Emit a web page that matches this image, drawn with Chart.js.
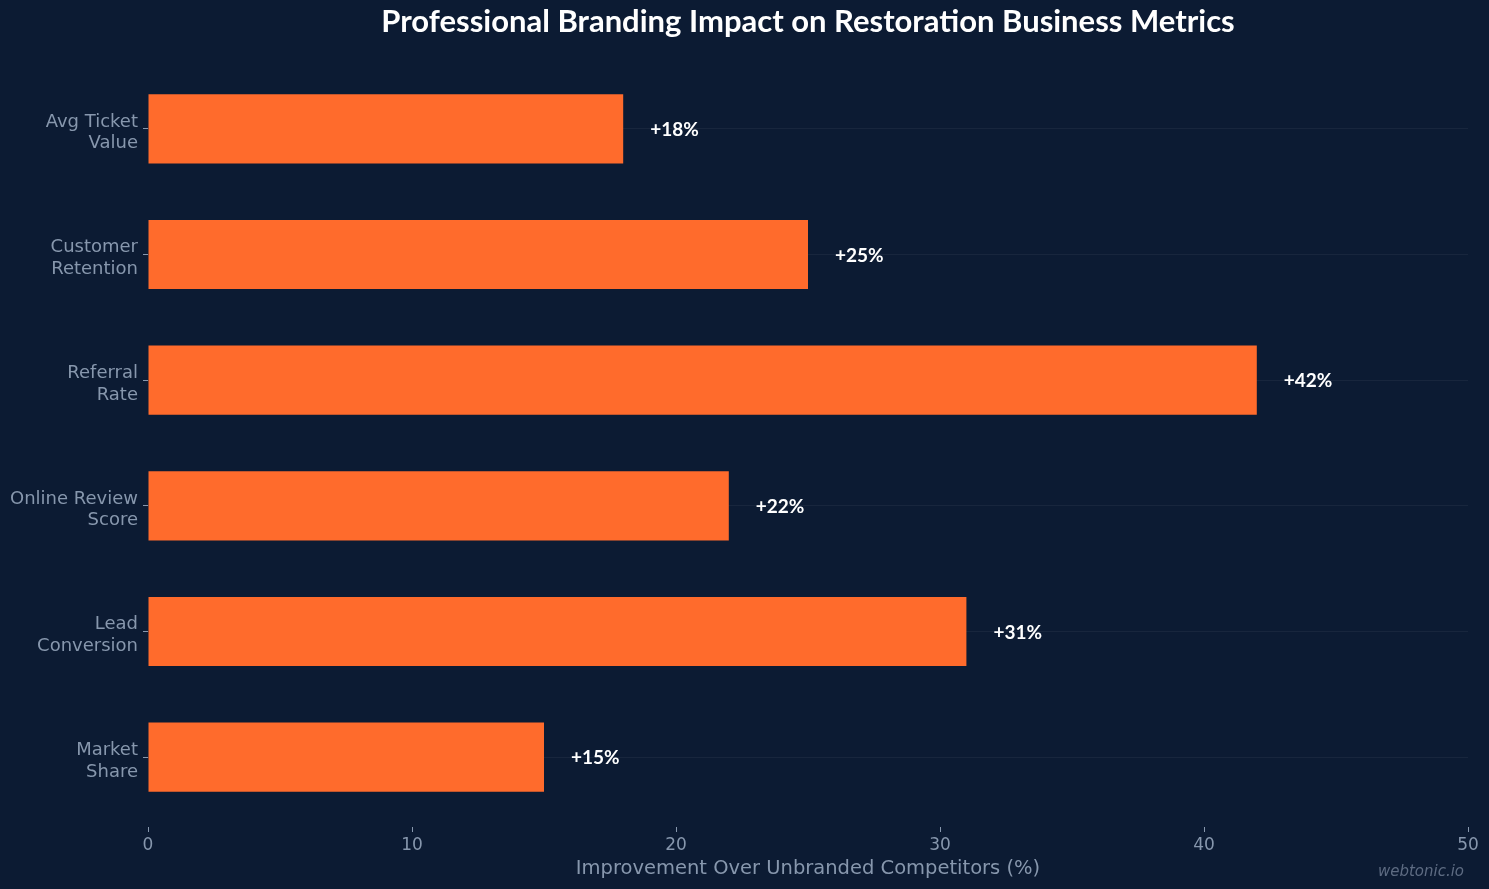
<!DOCTYPE html>
<html lang="en">
<head>
    <meta charset="UTF-8">
    <title>Professional Branding Impact</title>
    <script src="https://cdn.jsdelivr.net/npm/chart.js@4.4.1/dist/chart.umd.min.js"></script>
    <style>
        html, body { margin: 0; padding: 0; background: #0c1b33; }
        #wrap { width: 1489px; height: 889px; position: relative; }
    </style>
</head>
<body>
    <div id="wrap"><canvas id="chart"></canvas></div>

    <script>
        // chart data
        const categories = [
            ['Avg Ticket', 'Value'],
            ['Customer', 'Retention'],
            ['Referral', 'Rate'],
            ['Online Review', 'Score'],
            ['Lead', 'Conversion'],
            ['Market', 'Share']
        ];
        const improvement = [18, 25, 42, 22, 31, 15];
        const xTicks = [0, 10, 20, 30, 40, 50];

        const titleText = 'Professional Branding Impact on Restoration Business Metrics';
        const tickColor = '#8797ad';

        // title over plot area, value labels and watermark
        const extras = {
            id: 'extras',
            afterDatasetsDraw(chart) {
                const ctx = chart.ctx;
                const area = chart.chartArea;
                const xs = chart.scales.x, ys = chart.scales.y;
                ctx.save();
                ctx.fillStyle = '#ffffff';
                ctx.font = 'bold 31px Lato';
                ctx.textAlign = 'center';
                ctx.textBaseline = 'middle';
                ctx.fillText(titleText, (area.left + area.right) / 2, 22);

                ctx.font = 'bold 19px Lato';
                ctx.textAlign = 'left';
                improvement.forEach((v, i) => {
                    ctx.fillText('+' + v + '%', xs.getPixelForValue(v) + 27, ys.getPixelForValue(i) + 1);
                });

                ctx.fillStyle = '#5d6b82';
                ctx.font = 'italic 15px "DejaVu Sans"';
                ctx.textAlign = 'right';
                ctx.fillText('webtonic.io', 1464, 872);
                ctx.restore();
            }
        };

        new Chart(document.getElementById('chart'), {
            type: 'bar',
            data: {
                labels: categories,
                datasets: [{
                    data: improvement,
                    backgroundColor: '#ff6b2c',
                    borderWidth: 0,
                    barPercentage: 0.55,
                    categoryPercentage: 1.0
                }]
            },
            options: {
                indexAxis: 'y',
                responsive: true,
                maintainAspectRatio: false,
                animation: false,
                layout: { padding: { top: 66, right: 21, left: 0, bottom: 0 } },
                plugins: {
                    legend: { display: false },
                    title: { display: false },
                    tooltip: { enabled: false }
                },
                scales: {
                    x: {
                        min: 0,
                        max: 50,
                        border: { display: false },
                        grid: { drawOnChartArea: false, tickLength: 12, tickColor: tickColor },
                        afterBuildTicks: axis => { axis.ticks = xTicks.map(v => ({ value: v })); },
                        ticks: { color: tickColor, font: { family: 'DejaVu Sans', size: 17 }, padding: 3 },
                        title: {
                            display: true,
                            text: 'Improvement Over Unbranded Competitors (%)',
                            color: tickColor,
                            font: { family: 'DejaVu Sans', size: 19.5 },
                            padding: { top: 2, bottom: 8 }
                        },
                        afterFit: axis => { axis.height = 69; }
                    },
                    y: {
                        border: { display: false },
                        grid: { offset: false, color: 'rgba(255,255,255,0.05)', tickLength: 5, tickColor: tickColor },
                        ticks: {
                            color: tickColor,
                            font: { family: 'DejaVu Sans', size: 18, lineHeight: 1.2 },
                            padding: 5,
                            labelOffset: 4
                        },
                        afterFit: axis => { axis.width = 148; }
                    }
                }
            },
            plugins: [extras, {
                // hide the upper part of the x tick marks so they start a little below the plot
                id: 'tickGap',
                afterDraw(chart) {
                    const ctx = chart.ctx, a = chart.chartArea;
                    ctx.save();
                    ctx.fillStyle = '#0c1b33';
                    ctx.fillRect(a.left - 2, a.bottom, a.right - a.left + 4, 7);
                    ctx.restore();
                }
            }]
        });
    </script>
</body>
</html>
